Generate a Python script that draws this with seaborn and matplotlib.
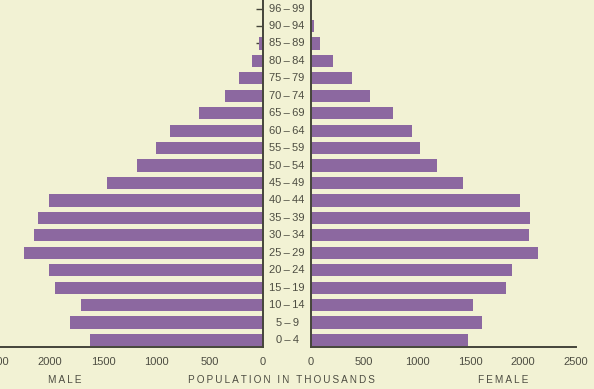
"""
Population pyramid - male / female by age group
"""

import matplotlib
matplotlib.use('Agg')
import matplotlib.pyplot as plt
import matplotlib.transforms as mtransforms

import seaborn as sns
import pandas as pd

# Data (thousands), top row first
age_groups = ['96–99', '90–94', '85–89', '80–84', '75–79', '70–74', '65–69',
              '60–64', '55–59', '50–54', '45–49', '40–44', '35–39', '30–34',
              '25–29', '20–24', '15–19', '10–14', '5–9', '0–4']
male = [1, 6, 35, 100, 223, 354, 599, 874, 1006, 1187, 1466, 2008, 2117,
        2152, 2246, 2008, 1958, 1708, 1814, 1626]
female = [3, 25, 85, 204, 384, 557, 777, 956, 1028, 1186, 1431, 1972, 2066,
          2060, 2145, 1900, 1837, 1532, 1610, 1481]
x_ticks = [0, 500, 1000, 1500, 2000, 2500]

# Style
BG = '#f2f2d4'
BAR = '#8c68a0'
INK = '#45453a'
TXT = '#4d4d42'

sns.set_theme(style='white')
plt.rcParams['font.family'] = ['Liberation Sans', 'DejaVu Sans']


def spaced(s):
    # wide letter spacing like the printed captions
    return '\u2009'.join(s)


df = pd.DataFrame({'age': age_groups, 'male': male, 'female': female})

W, H = 594, 389
fig = plt.figure(figsize=(W / 100, H / 100), dpi=100, facecolor=BG)

bottom = 42 / H
height = 347 / H
ax_m = fig.add_axes([-3 / W, bottom, 266 / W, height])
ax_f = fig.add_axes([311 / W, bottom, 265 / W, height])

for ax, col in [(ax_m, 'male'), (ax_f, 'female')]:
    sns.barplot(data=df, x=col, y='age', order=age_groups, orient='h',
                color=BAR, width=0.7, saturation=1, edgecolor='none', ax=ax)
    ax.set_facecolor(BG)
    ax.set_axisbelow(True)
    ax.set_xlim(0, 2500)
    ax.set_ylim(len(age_groups) - 1 + 0.4, -0.49)
    ax.set_xticks(x_ticks)
    ax.set_xticklabels([str(t) for t in x_ticks])
    ax.set_yticks(range(len(age_groups)))
    ax.set_yticklabels([])
    ax.set_xlabel('')
    ax.set_ylabel('')
    for s in ax.spines.values():
        s.set_visible(False)
    ax.spines['bottom'].set_visible(True)
    ax.spines['bottom'].set_color(INK)
    ax.spines['bottom'].set_linewidth(1.4)
    ax.tick_params(axis='x', direction='in', length=7, width=1.2, color=INK,
                   labelsize=8, labelcolor=TXT, pad=7)
    ax.tick_params(axis='y', direction='in', length=5, width=1.0, color=INK)

# male side reads right-to-left
ax_m.invert_xaxis()
ax_m.spines['right'].set_visible(True)
ax_m.spines['right'].set_color(INK)
ax_m.spines['right'].set_linewidth(1.4)
ax_m.yaxis.tick_right()
ax_m.tick_params(axis='y', direction='in', length=5, width=1.0, color=INK)

ax_f.spines['left'].set_visible(True)
ax_f.spines['left'].set_color(INK)
ax_f.spines['left'].set_linewidth(1.4)

# Age labels in the gap between the two halves
trans = mtransforms.blended_transform_factory(fig.transFigure, ax_f.transData)
for i, lab in enumerate(age_groups):
    ax_f.text(287 / W, i, lab.replace('–', '\u2009–\u2009'), transform=trans,
              ha='center', va='center', fontsize=8, color=TXT)

# Bottom captions
cap = dict(ha='center', va='center', fontsize=7.2, color=TXT)
fig.text(65 / W, 9 / H, spaced('MALE'), **cap)
fig.text(281 / W, 9 / H, spaced('POPULATION IN THOUSANDS'), **cap)
fig.text(503 / W, 9 / H, spaced('FEMALE'), **cap)

fig.savefig('out.png', dpi=100, facecolor=BG)
plt.close()
